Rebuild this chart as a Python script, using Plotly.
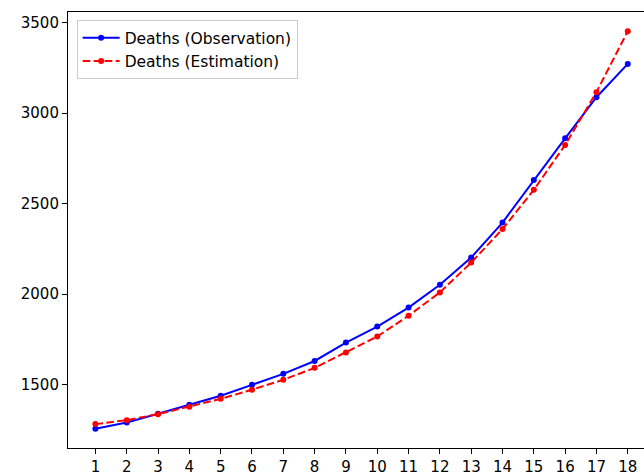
import plotly.graph_objects as go

days = list(range(1, 19))
deaths_observation = [1255, 1290, 1338, 1388, 1438, 1498, 1559, 1630, 1732, 1820,
                      1925, 2051, 2202, 2395, 2631, 2861, 3088, 3272]
deaths_estimation = [1281, 1303, 1336, 1377, 1421, 1471, 1526, 1592, 1677, 1765,
                     1880, 2009, 2174, 2359, 2576, 2824, 3116, 3453]
y_ticks = [1500, 2000, 2500, 3000, 3500]

FONT = "DejaVu Sans"

fig = go.Figure()
fig.add_trace(go.Scatter(
    x=days, y=deaths_observation, mode="lines+markers",
    name="Deaths (Observation)", legendgroup="a",
    line=dict(color="#0000ff", width=2),
    marker=dict(color="#0000ff", size=6),
))
fig.add_trace(go.Scatter(
    x=days, y=deaths_estimation, mode="lines+markers",
    name="Deaths (Estimation)", legendgroup="b",
    line=dict(color="#ff0000", width=2, dash="7.7px,3.3px"),
    marker=dict(color="#ff0000", size=6),
))

fig.update_layout(
    width=644, height=475,
    margin=dict(l=68, r=0, t=12, b=27),
    paper_bgcolor="white", plot_bgcolor="white",
    font=dict(family=FONT, size=15, color="black"),
    showlegend=True,
    legend=dict(
        x=0.015, y=0.981, xanchor="left", yanchor="top",
        bgcolor="rgba(255,255,255,0.8)", bordercolor="#cccccc", borderwidth=1,
        font=dict(family=FONT, size=15.5, color="black"),
        tracegroupgap=0, traceorder="grouped", itemwidth=37,
    ),
    xaxis=dict(
        range=[0.125, 18.518], tickmode="array", tickvals=days,
        ticktext=[str(d) for d in days],
        showgrid=False, zeroline=False,
        showline=True, linecolor="black", linewidth=1.1, mirror=True,
        ticks="outside", ticklen=5, tickwidth=1.1, tickcolor="black",
    ),
    yaxis=dict(
        range=[1149, 3559], tickmode="array", tickvals=y_ticks,
        ticktext=[str(v) for v in y_ticks],
        showgrid=False, zeroline=False,
        showline=True, linecolor="black", linewidth=1.1, mirror=False,
        ticks="outside", ticklen=5, tickwidth=1.1, tickcolor="black",
    ),
)

fig.write_html(
    "out.html",
    config={"displayModeBar": False},
    post_script="document.body.style.margin='0';document.body.style.overflow='hidden';",
)
